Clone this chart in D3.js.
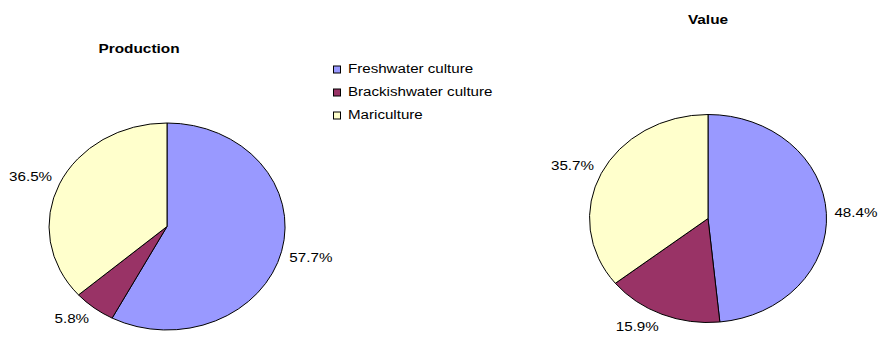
<!DOCTYPE html>
<html>
<head>
<meta charset="utf-8">
<script src="https://cdn.jsdelivr.net/npm/d3@7"></script>
<style>
  html, body { margin: 0; padding: 0; background: #fff; }
  svg { display: block; }
  text { font-family: "Liberation Sans", Arial, sans-serif; fill: #000; }
</style>
</head>
<body>
<svg id="chart" width="879" height="337"></svg>
<script>
// Aquaculture shares by culture environment (percent)
const categories = ["Freshwater culture", "Brackishwater culture", "Mariculture"];
const productionShare = [57.7, 5.8, 36.5];
const valueShare = [48.4, 15.9, 35.7];
const chartTitles = ["Production", "Value"];
const sliceColors = ["#9999FF", "#993366", "#FFFFCC"];

const svg = d3.select("#chart");
const W = 879, H = 337;

// Layout for the two elliptical pies
const pies = [
  { title: chartTitles[0], values: productionShare, cx: 167, cy: 226.5, rx: 118, ry: 103.5, titleX: 139, titleY: 53 },
  { title: chartTitles[1], values: valueShare,      cx: 708, cy: 218.5, rx: 118.5, ry: 104, titleX: 708, titleY: 24 }
];

const color = d3.scaleOrdinal().domain(categories).range(sliceColors);
const pie = d3.pie().sort(null).value(d => d.v);
const arc = d3.arc().innerRadius(0).outerRadius(1);

const labelFont = 13, labelStretch = 1.17;
const titleFont = 13.5, titleStretch = 1.14;
const legendFont = 12.5, legendStretch = 1.21;

pies.forEach(p => {
  const data = categories.map((c, i) => ({ c, v: p.values[i] }));
  const arcs = pie(data);

  // Slices: unit-circle arcs stretched into an ellipse
  const g = svg.append("g").attr("transform", `translate(${p.cx},${p.cy}) scale(${p.rx},${p.ry})`);
  g.selectAll("path")
    .data(arcs)
    .join("path")
    .attr("d", arc)
    .attr("fill", d => color(d.data.c))
    .attr("stroke", "#000")
    .attr("stroke-width", 1)
    .attr("vector-effect", "non-scaling-stroke");

  // Title
  svg.append("text")
    .attr("transform", `translate(${p.titleX},${p.titleY}) scale(${titleStretch},1)`)
    .attr("text-anchor", "middle")
    .attr("font-size", titleFont)
    .attr("font-weight", "bold")
    .text(p.title);

  // Percentage labels placed just outside the rim, box corner toward the pie
  const gap = 8;
  const capH = labelFont * 0.716;
  arcs.forEach(d => {
    const a = (d.startAngle + d.endAngle) / 2;
    const s = Math.sin(a), c = -Math.cos(a);
    const ex = p.cx + p.rx * s, ey = p.cy + p.ry * c;
    const px = ex + s * gap, py = ey + c * gap;
    const t = svg.append("text")
      .attr("font-size", labelFont)
      .attr("text-anchor", "middle")
      .text(d3.format(".1f")(d.data.v) + "%");
    const w = t.node().getComputedTextLength() * labelStretch;
    const kx = Math.max(-1, Math.min(1, s * 4));
    const ky = Math.max(-1, Math.min(1, c * 4));
    const bx = px + kx * w / 2;
    const by = py + ky * capH / 2;
    t.attr("transform", `translate(${bx},${by + capH / 2}) scale(${labelStretch},1)`);
  });
});

// Legend
const legend = svg.append("g").attr("transform", "translate(333.5,66)");
const rowH = 23;
categories.forEach((c, i) => {
  const row = legend.append("g").attr("transform", `translate(0,${i * rowH})`);
  row.append("rect")
    .attr("x", 0).attr("y", 0).attr("width", 7).attr("height", 7)
    .attr("fill", color(c)).attr("stroke", "#000").attr("stroke-width", 1);
  row.append("text")
    .attr("transform", `translate(14.5,6.8) scale(${legendStretch},1)`)
    .attr("font-size", legendFont)
    .text(c);
});
</script>
</body>
</html>
